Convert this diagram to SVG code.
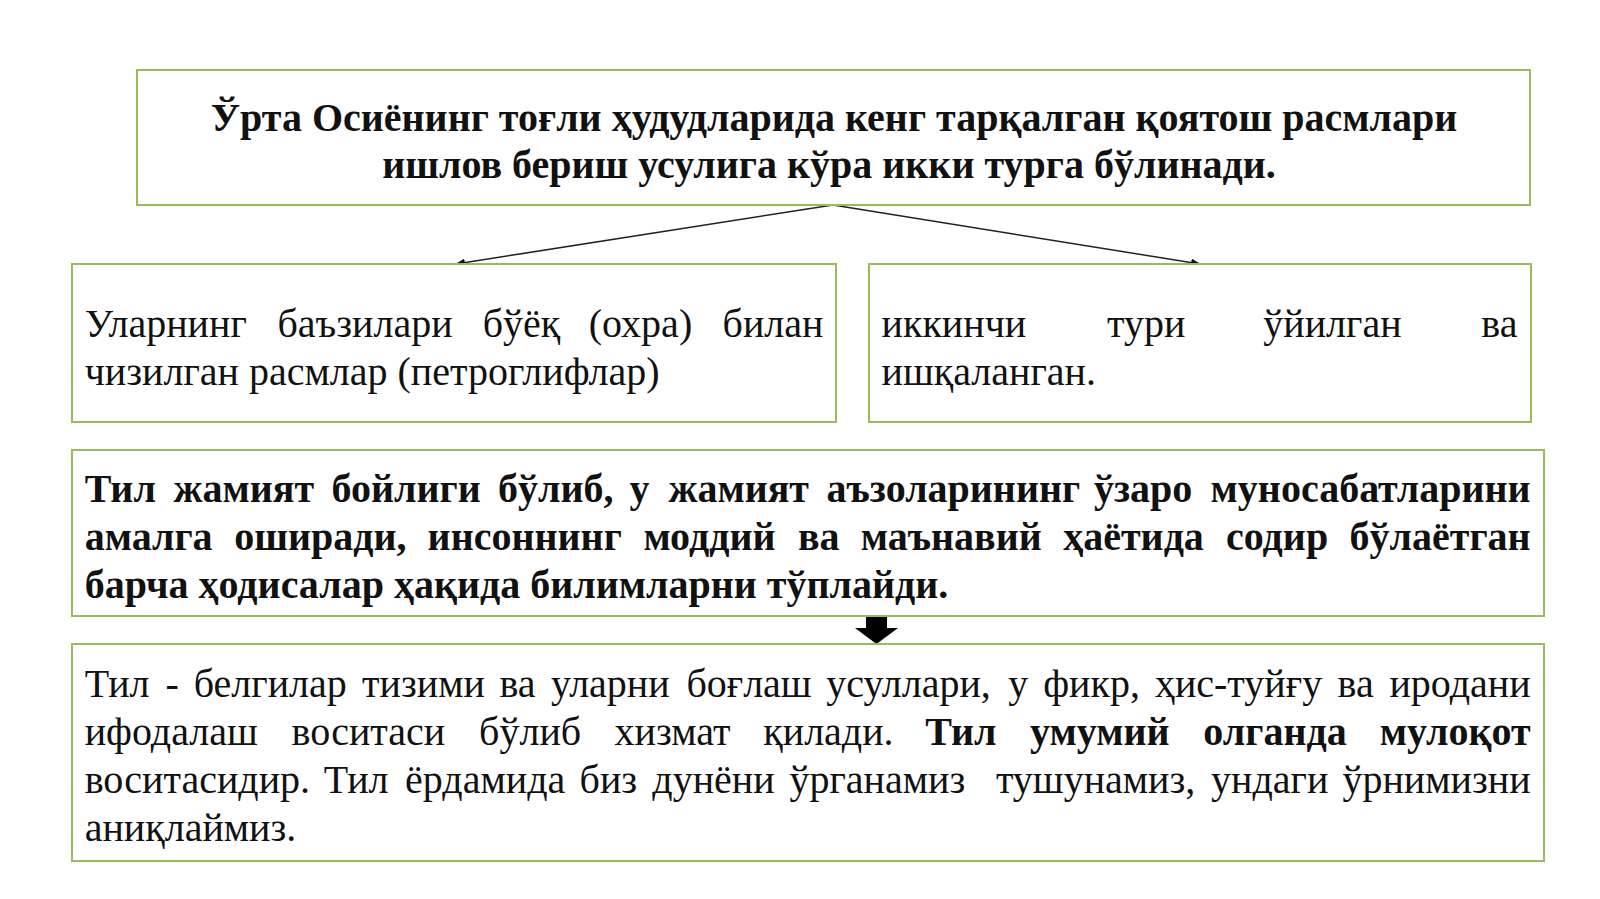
<svg xmlns="http://www.w3.org/2000/svg" width="1600" height="899" viewBox="0 0 1600 899">
<style>
.box{fill:#ffffff;stroke:#9bbb59;stroke-width:2}
.t{font-family:"Liberation Serif","Times New Roman",serif;font-size:40px;fill:#111111}
.b{font-weight:bold}
.e{text-anchor:end}
.ln{stroke:#222222;stroke-width:1.5;fill:none}
</style>
<defs>
<marker id="ah" markerWidth="10" markerHeight="8" refX="9" refY="4" orient="auto" markerUnits="userSpaceOnUse">
<path d="M0,0 L10,4 L0,8 Z" fill="#111111"/>
</marker>
</defs>
<rect width="1600" height="899" fill="#ffffff"/>
<g id="connectors">
<line class="ln" x1="833" y1="205" x2="456" y2="264" marker-end="url(#ah)"/>
<line class="ln" x1="833" y1="205" x2="1200" y2="264" marker-end="url(#ah)"/>
<path d="M866,616 H887 V628 H898 L876.5,644 L855,628 H866 Z" fill="#000000"/>
</g>
<g id="node-title">
<rect class="box" x="137" y="70" width="1393" height="135"/>
<text class="t b" x="834" y="130.5" text-anchor="middle">Ўрта Осиёнинг тоғли ҳудудларида кенг тарқалган қоятош расмлари</text>
<text class="t b" x="829" y="177.5" text-anchor="middle">ишлов бериш усулига кўра икки турга бўлинади.</text>
</g>
<g id="node-left">
<rect class="box" x="72" y="264" width="764" height="158"/>
<text class="t"><tspan x="84.7" y="336.7">Уларнинг</tspan><tspan x="277.5">баъзилари</tspan><tspan x="482.7">бўёқ</tspan><tspan x="588.8">(охра)</tspan><tspan class="e" x="823.5">билан</tspan></text>
<text class="t" x="84.7" y="384.7">чизилган расмлар (петроглифлар)</text>
</g>
<g id="node-right">
<rect class="box" x="869" y="264" width="662" height="158"/>
<text class="t"><tspan x="881.6" y="336.7">иккинчи</tspan><tspan x="1107.1">тури</tspan><tspan x="1263.3">ўйилган</tspan><tspan class="e" x="1517.4">ва</tspan></text>
<text class="t" x="881.6" y="384.7">ишқаланган.</text>
</g>
<g id="node-language">
<rect class="box" x="72" y="450" width="1472" height="166"/>
<text class="t b"><tspan x="84.7" y="502">Тил</tspan><tspan x="173.5">жамият</tspan><tspan x="331.6">бойлиги</tspan><tspan x="498">бўлиб,</tspan><tspan x="629.6">у</tspan><tspan x="668.4">жамият</tspan><tspan x="826.5">аъзоларининг</tspan><tspan x="1093.9">ўзаро</tspan><tspan class="e" x="1530.6">муносабатларини</tspan></text>
<text class="t b"><tspan x="84.7" y="550">амалга</tspan><tspan x="234.2">оширади,</tspan><tspan x="427.6">инсоннинг</tspan><tspan x="643.4">моддий</tspan><tspan x="798">ва</tspan><tspan x="860.7">маънавий</tspan><tspan x="1063.2">ҳаётида</tspan><tspan x="1226">содир</tspan><tspan class="e" x="1530.6">бўлаётган</tspan></text>
<text class="t b" x="84.7" y="598">барча ҳодисалар ҳақида билимларни тўплайди.</text>
</g>
<g id="node-definition">
<rect class="box" x="72" y="644" width="1472" height="217"/>
<text class="t"><tspan x="84.7" y="697">Тил</tspan><tspan x="165.5">-</tspan><tspan x="193.7">белгилар</tspan><tspan x="362.1">тизими</tspan><tspan x="499.4">ва</tspan><tspan x="550.9">уларни</tspan><tspan x="686.4">боғлаш</tspan><tspan x="826.3">усуллари,</tspan><tspan x="1008.3">у</tspan><tspan x="1043.2">фикр,</tspan><tspan x="1154.9">ҳис-туйғу</tspan><tspan x="1337.6">ва</tspan><tspan class="e" x="1530.6">иродани</tspan></text>
<text class="t"><tspan x="84.7" y="745">ифодалаш</tspan><tspan x="291.6">воситаси</tspan><tspan x="479.1">бўлиб</tspan><tspan x="614.5">хизмат</tspan><tspan x="763.3">қилади.</tspan><tspan class="b" x="925.3">Тил</tspan><tspan class="b" x="1030.1">умумий</tspan><tspan class="b" x="1203.3">олганда</tspan><tspan class="b e" x="1530.6">мулоқот</tspan></text>
<text class="t"><tspan x="84.7" y="793">воситасидир.</tspan><tspan x="323.7">Тил</tspan><tspan x="405.1">ёрдамида</tspan><tspan x="579.6">биз</tspan><tspan x="652.3">дунёни</tspan><tspan x="789.4">ўрганамиз</tspan><tspan x="995.9">тушунамиз,</tspan><tspan x="1211">ундаги</tspan><tspan class="e" x="1530.6">ўрнимизни</tspan></text>
<text class="t" x="84.7" y="841">аниқлаймиз.</text>
</g>
</svg>
